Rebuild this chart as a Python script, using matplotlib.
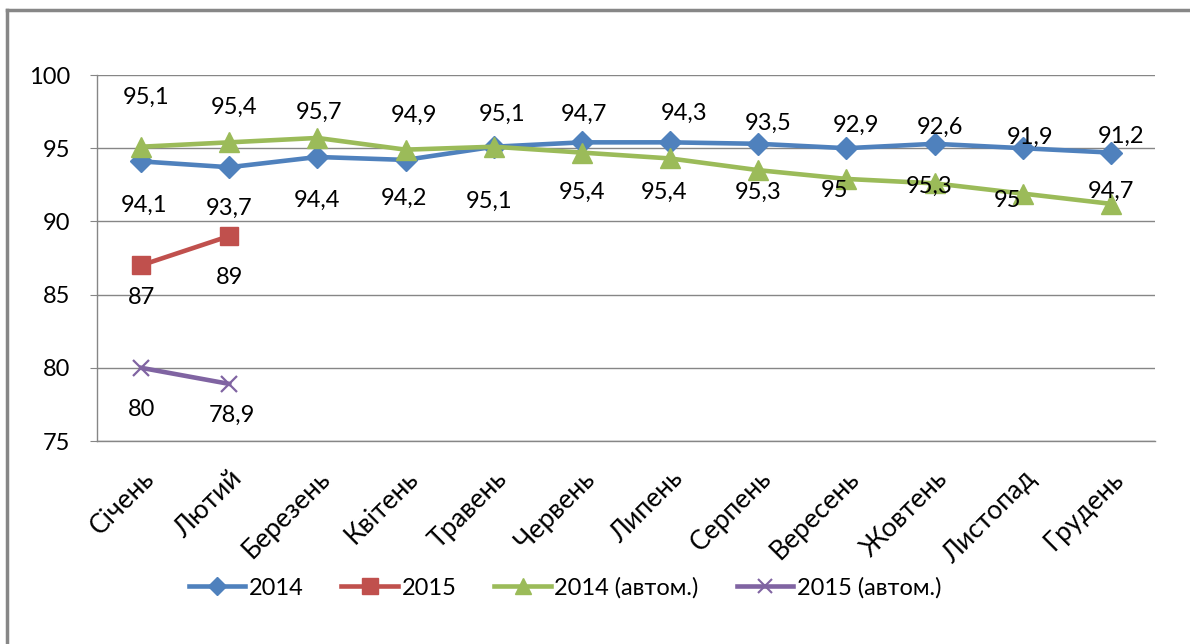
import matplotlib
matplotlib.use("Agg")
import matplotlib.pyplot as plt
from matplotlib.lines import Line2D
import numpy as np

plt.rcParams['font.family'] = ['Lato', 'DejaVu Sans']

months = ["Січень", "Лютий", "Березень", "Квітень", "Травень", "Червень",
          "Липень", "Серпень", "Вересень", "Жовтень", "Листопад", "Грудень"]
s2014 = [94.1, 93.7, 94.4, 94.2, 95.1, 95.4, 95.4, 95.3, 95.0, 95.3, 95.0, 94.7]
s2015 = [87.0, 89.0]
s2014a = [95.1, 95.4, 95.7, 94.9, 95.1, 94.7, 94.3, 93.5, 92.9, 92.6, 91.9, 91.2]
s2015a = [80.0, 78.9]
yticks = [75, 80, 85, 90, 95, 100]
names = ["2014", "2015", "2014 (автом.)", "2015 (автом.)"]

# label layout (pixel offsets from each point)
up_dy = [49, 35, 26, 34, 32, 38, 45, 47, 54, 56, 56, 67]
up_dx = [5, 5, 2, 8, 8, 2, 14, 10, 10, 5, 7, 10]
lo_dy = [44, 41, 43, 38, 55, 50, 50, 49, 42, 43, 52, 39]
lo_dx = [3, 0, 0, -2, -5, 0, -6, 0, -12, -5, -15, 0]
r_dy = [32, 41]
p_dy = [42, 31]
p_dx = [0, 3]

c_blue = "#4F81BD"
c_red = "#C0504D"
c_green = "#9BBB59"
c_purple = "#8064A2"

fig = plt.figure(figsize=(11.9, 6.44), dpi=100)
ax = fig.add_axes([97/1190, 1 - 441/644, (1155-97)/1190, (441-75)/644])

x = np.arange(len(months))
lw = 3.3
ax.plot(x, s2014, color=c_blue, lw=lw, marker='D', ms=11, zorder=3)
ax.plot(x[:len(s2015)], s2015, color=c_red, lw=lw, marker='s', ms=13, zorder=3)
ax.plot(x, s2014a, color=c_green, lw=lw, marker='^', ms=14, zorder=4)
ax.plot(x[:len(s2015a)], s2015a, color=c_purple, lw=lw, marker='x', ms=12, mew=1.6, zorder=3)

fs = 17
fmt = lambda v: (f"{v:g}").replace('.', ',')
for i in range(len(months)):
    ax.annotate(fmt(s2014a[i]), (x[i], s2014a[i]), xytext=(up_dx[i], up_dy[i]),
                textcoords='offset pixels', ha='center', va='center', fontsize=fs, zorder=5)
    ax.annotate(fmt(s2014[i]), (x[i], s2014[i]), xytext=(lo_dx[i], -lo_dy[i]),
                textcoords='offset pixels', ha='center', va='center', fontsize=fs, zorder=5)
for i in range(len(s2015)):
    ax.annotate(fmt(s2015[i]), (x[i], s2015[i]), xytext=(0, -r_dy[i]),
                textcoords='offset pixels', ha='center', va='center', fontsize=fs, zorder=5)
for i in range(len(s2015a)):
    ax.annotate(fmt(s2015a[i]), (x[i], s2015a[i]), xytext=(p_dx[i], -p_dy[i]),
                textcoords='offset pixels', ha='center', va='center', fontsize=fs, zorder=5)

ax.set_xlim(-0.5, len(months) - 0.5)
ax.set_ylim(75, 100)
ax.set_yticks(yticks)
ax.set_yticklabels([str(t) for t in yticks], fontsize=fs)
ax.set_xticks(x)
ax.set_xticklabels(months, fontsize=19, rotation=45, ha='right', rotation_mode='anchor')
ax.tick_params(axis='x', length=0, pad=18)
ax.tick_params(axis='y', length=5, color='#868686', pad=14)
ax.grid(axis='y', color='#868686', lw=1)
ax.set_axisbelow(True)
for s in ['top', 'right']:
    ax.spines[s].set_visible(False)
for s in ['left', 'bottom']:
    ax.spines[s].set_color('#868686')
    ax.spines[s].set_linewidth(1)

handles = [
    Line2D([], [], color=c_blue, lw=lw, marker='D', ms=9),
    Line2D([], [], color=c_red, lw=lw, marker='s', ms=11),
    Line2D([], [], color=c_green, lw=lw, marker='^', ms=12),
    Line2D([], [], color=c_purple, lw=lw, marker='x', ms=10, mew=1.5),
]
fig.legend(handles, names, loc='center', bbox_to_anchor=(565/1190, 1 - 588/644),
           ncol=4, frameon=False, fontsize=fs, handlelength=2.4, handletextpad=0.15,
           columnspacing=1.6)

# outer frame (top and left edges visible)
fig.add_artist(Line2D([7/1190, 7/1190], [0, 1 - 10/644], transform=fig.transFigure,
                      color='#878787', lw=2.5))
fig.add_artist(Line2D([7/1190, 1], [1 - 10/644, 1 - 10/644], transform=fig.transFigure,
                      color='#878787', lw=2.5))

fig.savefig("out.png", dpi=100)
